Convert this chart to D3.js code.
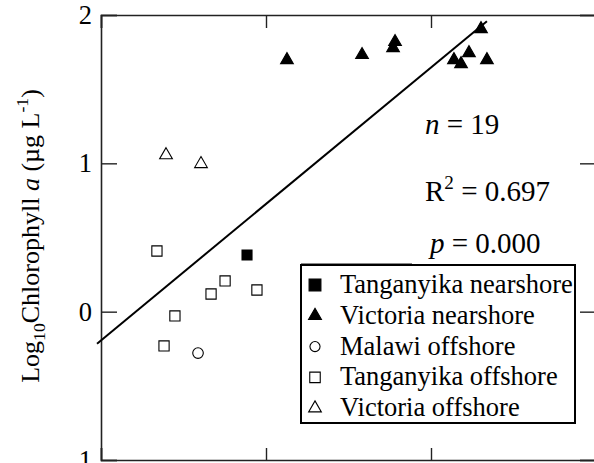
<!DOCTYPE html>
<html><head><meta charset="utf-8">
<script src="https://cdn.jsdelivr.net/npm/d3@7"></script>
<style>
html,body{margin:0;padding:0;background:#fff;}
svg{display:block;font-family:"Liberation Serif","Times New Roman",serif;}
</style></head>
<body>
<svg id="chart" width="594" height="463"></svg>
<script>
// ---- data ----
const yTicks = [-1, 0, 1, 2];
const yTickLabels = ["1", "0", "1", "2"];
const xTicks = [0, 1, 2, 3];

const victoriaNearX = [1.127, 1.582, 1.782, 1.770, 2.303, 2.230, 2.139, 2.182, 2.339];
const victoriaNearY = [1.697, 1.731, 1.819, 1.778, 1.906, 1.744, 1.697, 1.670, 1.697];
const victoriaOffX = [0.394, 0.606];
const victoriaOffY = [1.056, 0.996];
const tanganyikaOffX = [0.339, 0.752, 0.667, 0.945, 0.448, 0.382];
const tanganyikaOffY = [0.409, 0.207, 0.119, 0.146, -0.029, -0.231];
const tanganyikaNearX = [0.885];
const tanganyikaNearY = [0.382];
const malawiOffX = [0.588];
const malawiOffY = [-0.279];

const fitSlope = 0.920, fitIntercept = -0.194;
const fitRange = [-0.024, 2.339];

const seriesNames = ["Tanganyika nearshore", "Victoria nearshore", "Malawi offshore", "Tanganyika offshore", "Victoria offshore"];
const statsLabels = ["n = 19", "R2 = 0.697", "p = 0.000"];

// ---- layout ----
const svg = d3.select("#chart");
const x = d3.scaleLinear().domain([0, 3]).range([101, 596]);
const y = d3.scaleLinear().domain([-1, 2]).range([460, 15]);
const FS = 26.5, FSS = 29, FSL = 26.5;

const series = [
  {name: seriesNames[0], xs: tanganyikaNearX, ys: tanganyikaNearY, sym: d3.symbolSquare, fill: "#000", size: 100, lsize: 140},
  {name: seriesNames[1], xs: victoriaNearX, ys: victoriaNearY, sym: d3.symbolTriangle, fill: "#000", size: 70, lsize: 72},
  {name: seriesNames[2], xs: malawiOffX, ys: malawiOffY, sym: d3.symbolCircle, fill: "#fff", size: 88, lsize: 80},
  {name: seriesNames[3], xs: tanganyikaOffX, ys: tanganyikaOffY, sym: d3.symbolSquare, fill: "#fff", size: 104, lsize: 110},
  {name: seriesNames[4], xs: victoriaOffX, ys: victoriaOffY, sym: d3.symbolTriangle, fill: "#fff", size: 70, lsize: 70}
];

// axes (ticks inward)
const axL = svg.append("g").attr("transform", `translate(${x(0)},0)`)
  .call(d3.axisLeft(y).tickValues(yTicks).tickSize(-16).tickPadding(9).tickFormat((d,i)=>yTickLabels[i]));
const axR = svg.append("g").attr("transform", `translate(${x(3)},0)`)
  .call(d3.axisRight(y).tickValues(yTicks).tickSize(-16).tickFormat(""));
const axT = svg.append("g").attr("transform", `translate(0,${y(2)})`)
  .call(d3.axisTop(x).tickValues(xTicks).tickSize(-13).tickFormat(""));
const axB = svg.append("g").attr("transform", `translate(0,${y(-1)})`)
  .call(d3.axisBottom(x).tickValues(xTicks).tickSize(-12).tickFormat(""));
[axL, axR, axT, axB].forEach(a => {
  a.select(".domain").attr("stroke", "#222").attr("stroke-width", 1.6);
  a.selectAll(".tick line").attr("stroke", "#222").attr("stroke-width", 1.4);
  a.selectAll("text").attr("font-family", "Liberation Serif, serif").attr("font-size", FS).attr("fill", "#000");
});

// y label
const yl = svg.append("text").attr("transform", "translate(39,236) rotate(-90)")
  .attr("text-anchor", "middle").attr("font-size", 26).attr("fill", "#000");
yl.append("tspan").text("Log");
yl.append("tspan").attr("font-size", 26*0.68).attr("dy", 6).text("10");
yl.append("tspan").attr("dy", -6).text("Chlorophyll ");
yl.append("tspan").attr("font-style", "italic").text("a");
yl.append("tspan").text(" (\u00b5g L");
yl.append("tspan").attr("font-size", 26*0.68).attr("dy", -11).text("-1");
yl.append("tspan").attr("dy", 11).text(")");

// regression line
svg.append("line")
  .attr("x1", x(fitRange[0])).attr("y1", y(fitIntercept + fitSlope*fitRange[0]))
  .attr("x2", x(fitRange[1])).attr("y2", y(fitIntercept + fitSlope*fitRange[1]))
  .attr("stroke", "#000").attr("stroke-width", 2);

// points
series.forEach(s => {
  svg.append("g").selectAll("path").data(s.xs.map((v,i)=>[v, s.ys[i]])).join("path")
    .attr("transform", d => `translate(${x(d[0])},${y(d[1])})`)
    .attr("d", d3.symbol().type(s.sym).size(s.size))
    .attr("fill", s.fill).attr("stroke", "#000").attr("stroke-width", 1.1);
});

// stats text
const st = svg.append("g").attr("font-size", FSS).attr("fill", "#000");
const t1 = st.append("text").attr("x", 425).attr("y", 134);
t1.append("tspan").attr("font-style", "italic").text("n");
t1.append("tspan").text(statsLabels[0].slice(1));
const t2 = st.append("text").attr("x", 425).attr("y", 201);
t2.append("tspan").text("R");
t2.append("tspan").attr("font-size", FSS*0.66).attr("dy", -12).text("2");
t2.append("tspan").attr("dy", 12).text(statsLabels[1].slice(2));
const t3 = st.append("text").attr("x", 430).attr("y", 253);
t3.append("tspan").attr("font-style", "italic").text("p");
t3.append("tspan").text(statsLabels[2].slice(1));

// legend
const lg = svg.append("g");
lg.append("line").attr("x1", 301).attr("x2", 412).attr("y1", 263.5).attr("y2", 263.5)
  .attr("stroke", "#888").attr("stroke-width", 1);
lg.append("rect").attr("x", 301).attr("y", 265).attr("width", 274).attr("height", 158)
  .attr("fill", "#fff").attr("stroke", "#000").attr("stroke-width", 2);
series.forEach((s, i) => {
  const cy = 285 + i*30.8;
  lg.append("path").attr("transform", `translate(315,${cy})`)
    .attr("d", d3.symbol().type(s.sym).size(s.lsize))
    .attr("fill", s.fill).attr("stroke", "#000").attr("stroke-width", 1.1);
  lg.append("text").attr("x", 340).attr("y", cy + 8).attr("font-size", FSL).attr("fill", "#000").text(s.name);
});
</script>
</body></html>
